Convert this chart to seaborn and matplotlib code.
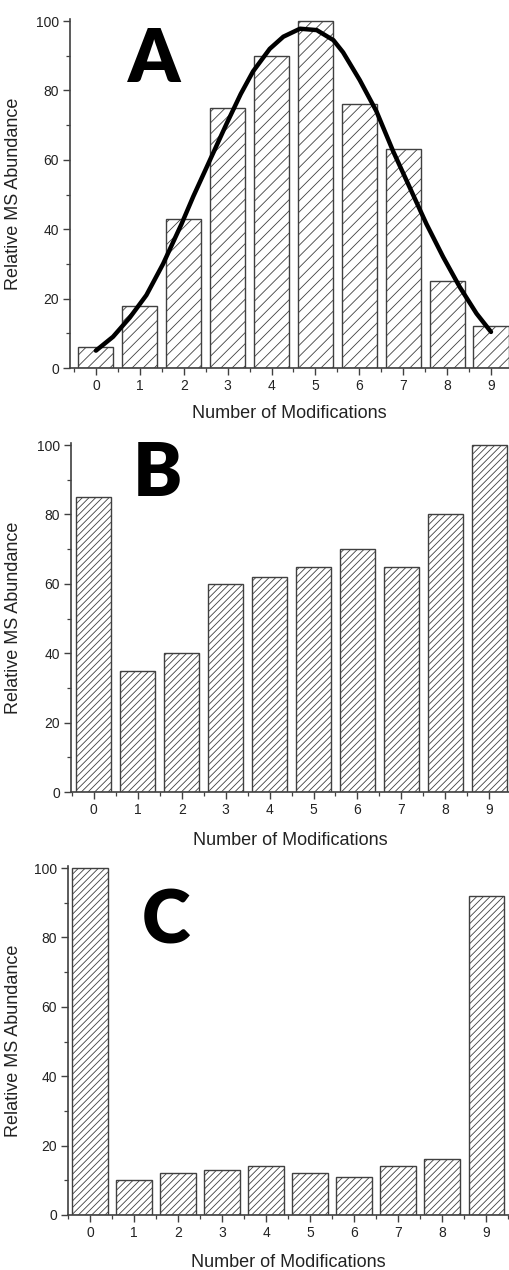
import numpy as np
import pandas as pd
import matplotlib
matplotlib.use('Agg')
import matplotlib.pyplot as plt
from matplotlib.ticker import MultipleLocator
import seaborn as sns

sns.set_theme(style='white')
plt.rcParams['font.family'] = ['Liberation Sans', 'DejaVu Sans']
plt.rcParams['hatch.linewidth'] = 0.6

# data
n_mods = [0, 1, 2, 3, 4, 5, 6, 7, 8, 9]
abund_a = [6, 18, 43, 75, 90, 100, 76, 63, 25, 12]
abund_b = [85, 35, 40, 60, 62, 65, 70, 65, 80, 100]
abund_c = [100, 10, 12, 13, 14, 12, 11, 14, 16, 92]

# fitted curve in panel A
fit_x = [0, 0.39, 0.77, 1.15, 1.53, 1.95, 2.22, 2.60, 2.98, 3.30, 3.58, 3.96, 4.27,
         4.65, 5.03, 5.41, 5.63, 6.01, 6.39, 6.77, 7.15, 7.53, 7.91, 8.29, 8.67, 9.0]
fit_y = [5.0, 9.0, 14.5, 21.0, 30.0, 41.5, 49.5, 60.0, 70.5, 79.0, 85.5, 92.0, 95.5,
         97.8, 97.4, 94.5, 91.0, 83.0, 74.0, 62.5, 52.0, 41.5, 32.0, 23.3, 15.7, 10.4]

W, H = 509, 1270
fig = plt.figure(figsize=(W / 100, H / 100), dpi=100, facecolor='white')

# (left px, top px, bottom px, xlim, letter, letter pos px, hatch, xlabel gap, values)
panels = [
    (70, 19, 368, (-0.59, 9.41), 'A', (154, 61), '///', 37, abund_a),
    (71, 443, 792, (-0.52, 9.45), 'B', (157, 475), '/////', 40, abund_b),
    (68, 866, 1215, (-0.50, 9.52), 'C', (166, 922), '/////', 39, abund_c),
]

edge = '#404040'
for left, top, bottom, xlim, letter, lpos, hatch, gap, vals in panels:
    ax = fig.add_axes([left / W, (H - bottom) / H, (W - left) / W, (bottom - top) / H])
    df = pd.DataFrame({'mods': n_mods, 'abund': vals})
    sns.barplot(data=df, x='mods', y='abund', ax=ax, color='white', saturation=1,
                edgecolor=edge, linewidth=1.0, width=0.8, hatch=hatch)
    if letter == 'A':
        sns.lineplot(x=fit_x, y=fit_y, ax=ax, color='black', linewidth=3.2,
                     sort=False)
    ax.set_xlim(*xlim)
    ax.set_ylim(0, 100.6)
    ax.set_yticks([0, 20, 40, 60, 80, 100])
    ax.yaxis.set_minor_locator(MultipleLocator(10))
    ax.xaxis.set_minor_locator(MultipleLocator(0.5))
    ax.tick_params(which='both', direction='out', color=edge, labelsize=10,
                   labelcolor='#222222', bottom=True, left=True)
    ax.tick_params(which='major', length=5, width=1.0, pad=3)
    ax.tick_params(which='minor', length=3, width=0.9)
    for s in ['top', 'right']:
        ax.spines[s].set_visible(False)
    for s in ['left', 'bottom']:
        ax.spines[s].set_color(edge)
        ax.spines[s].set_linewidth(1.2)
    ax.set_xlabel('Number of Modifications', fontsize=13, color='#222222')
    ax.set_ylabel('Relative MS Abundance', fontsize=13, color='#222222')
    ax.xaxis.set_label_coords(0.5, -gap / (bottom - top))
    ax.yaxis.set_label_coords(-(left - 22) / (W - left), 0.5)
    fig.text(lpos[0] / W, 1 - lpos[1] / H, letter, fontsize=53, fontweight='heavy',
             family=['Lato', 'DejaVu Sans'], ha='center', va='center', color='black')

fig.savefig('out.png', dpi=100, facecolor='white')
